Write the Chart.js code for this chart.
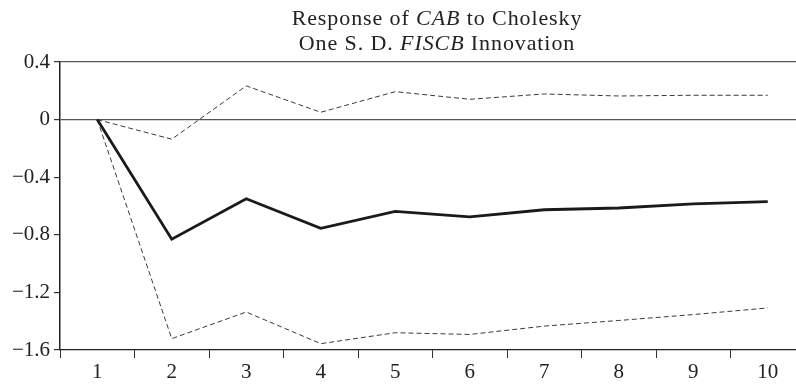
<!DOCTYPE html>
<html>
<head>
<meta charset="utf-8">
<script src="https://cdn.jsdelivr.net/npm/chart.js@4"></script>
<style>
  html, body { margin: 0; padding: 0; background: #fff; overflow: hidden; }
  #wrap { width: 806px; height: 384px; }
</style>
</head>
<body>
<div id="wrap"><canvas id="myChart"></canvas></div>
<script>
const ctx = document.getElementById("myChart").getContext("2d");

// periods after the shock
const periods = ["1", "2", "3", "4", "5", "6", "7", "8", "9", "10"];
// response of CAB to a FISCB shock, with +/- 2 S.E. bands
const response = [0, -0.83, -0.55, -0.755, -0.637, -0.676, -0.626, -0.614, -0.585, -0.569];
const upperBand = [0, -0.136, 0.234, 0.051, 0.194, 0.141, 0.178, 0.164, 0.169, 0.169];
const lowerBand = [0, -1.521, -1.336, -1.556, -1.48, -1.492, -1.434, -1.395, -1.354, -1.308];
const yTicks = [0.4, 0, -0.4, -0.8, -1.2, -1.6];

const titleLines = [
	[["Response of ", false], ["CAB", true], [" to Cholesky", false]],
	[["One S. D. ", false], ["FISCB", true], [" Innovation", false]]
];

const fontFamily = "'Liberation Serif', 'Times New Roman', serif";
const spacing = 0.9; // extra gap between letters of the title

// draws the two line title, some words in italic
const titlePlugin = {
	id: "mixedTitle",
	afterDraw(chart) {
		const c = chart.ctx;
		c.save();
		c.fillStyle = "#222";
		c.textBaseline = "alphabetic";
		c.textAlign = "left";
		const baselines = [25, 50];
		titleLines.forEach((line, i) => {
			let total = 0;
			for (const [txt, it] of line) {
				c.font = (it ? "italic " : "") + "22px " + fontFamily;
				for (const ch of txt) total += c.measureText(ch).width + spacing;
			}
			let x = 437 - total / 2;
			for (const [txt, it] of line) {
				c.font = (it ? "italic " : "") + "22px " + fontFamily;
				for (const ch of txt) {
					c.fillText(ch, x, baselines[i]);
					x += c.measureText(ch).width + spacing;
				}
			}
		});
		c.restore();
	}
};

const fmt = (v) => {
	if (v === 0) return "0";
	const s = Math.abs(v).toFixed(1);
	return v < 0 ? "\u2212" + s : s;
};

const chart = new Chart(ctx, {
	type: "line",
	data: {
		labels: periods,
		datasets: [{
			label: "Response",
			data: response,
			borderColor: "#1a1a1a",
			borderWidth: 2.8,
			pointRadius: 0,
			tension: 0
		}, {
			label: "Upper",
			data: upperBand,
			borderColor: "#3a3a3a",
			borderWidth: 1,
			borderDash: [5, 3],
			pointRadius: 0,
			tension: 0
		}, {
			label: "Lower",
			data: lowerBand,
			borderColor: "#3a3a3a",
			borderWidth: 1,
			borderDash: [5, 3],
			pointRadius: 0,
			tension: 0
		}]
	},
	options: {
		responsive: true,
		maintainAspectRatio: false,
		animation: false,
		layout: { padding: { top: 62, right: 1, left: 0, bottom: 0 } },
		plugins: {
			legend: { display: false },
			tooltip: { enabled: false },
			title: { display: false }
		},
		scales: {
			x: {
				offset: true,
				grid: {
					offset: true,
					drawOnChartArea: false,
					tickLength: 8,
					tickColor: "#333",
					lineWidth: 1
				},
				border: { color: "#222", width: 1.2 },
				ticks: {
					color: "#222",
					padding: 2,
					maxRotation: 0,
					font: { family: fontFamily, size: 21 }
				},
				afterFit: (scale) => { scale.height = 34; }
			},
			y: {
				min: -1.6,
				max: 0.4,
				afterBuildTicks: (scale) => {
					scale.ticks = yTicks.map((v) => ({ value: v }));
				},
				grid: {
					drawOnChartArea: true,
					color: (c) => (c.tick && (c.tick.value === 0 || c.tick.value === 0.4)) ? "#555" : "rgba(0,0,0,0)",
					tickColor: "#333",
					tickLength: 6,
					lineWidth: 1.2
				},
				border: { color: "#222", width: 1.5 },
				ticks: {
					color: "#222",
					padding: 4,
					font: { family: fontFamily, size: 21 },
					callback: (v) => fmt(v)
				},
				afterFit: (scale) => { scale.width = 60; }
			}
		}
	},
	plugins: [titlePlugin]
});
</script>
</body>
</html>
